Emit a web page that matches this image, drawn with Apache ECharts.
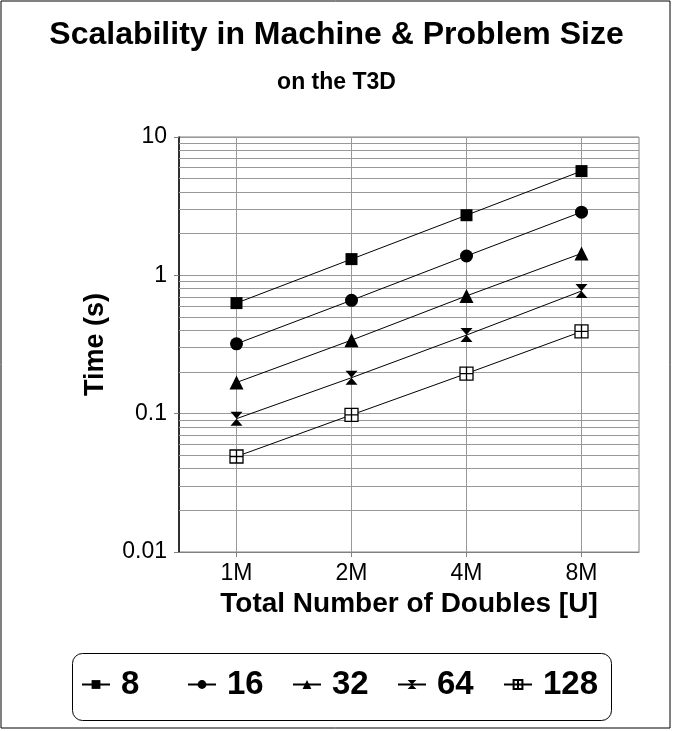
<!DOCTYPE html>
<html>
<head>
<meta charset="utf-8">
<script src="https://cdn.jsdelivr.net/npm/echarts@6/dist/echarts.min.js"></script>
<style>
html,body{margin:0;padding:0;background:#fff;}
#c{width:673px;height:731px;}
</style>
</head>
<body>
<div id="c"></div>
<script>
const categories = ['1M', '2M', '4M', '8M'];
const seriesNames = ['8', '16', '32', '64', '128'];
const s8 = [0.63, 1.31, 2.72, 5.67];
const s16 = [0.32, 0.66, 1.38, 2.86];
const s32 = [0.168, 0.34, 0.71, 1.44];
const s64 = [0.092, 0.182, 0.37, 0.77];
const s128 = [0.049, 0.098, 0.195, 0.393];
const minorValues = [0.02,0.03,0.04,0.05,0.06,0.07,0.08,0.09,0.2,0.3,0.4,0.5,0.6,0.7,0.8,0.9,2,3,4,5,6,7,8,9];

const FONT = 'Liberation Sans, Arial, sans-serif';
const chart = echarts.init(document.getElementById('c'));

const hourglass = 'path://M0,0 L10,0 L5,6 L10,12 L0,12 L5,6 Z';
const plusSquare = 'path://M0,0 L10,0 L10,10 L0,10 Z M5,0 L5,10 M0,5 L10,5';

const symbols = ['rect', 'circle', 'triangle', hourglass, plusSquare];
const sizes = [12, 13, 14, [12, 14], 13];
const values = [s8, s16, s32, s64, s128];
const legendLefts = [81, 187, 292, 397, 503];

const dataSeries = seriesNames.map((n, i) => ({
  name: n,
  type: 'line',
  data: values[i],
  symbol: symbols[i],
  symbolSize: sizes[i],
  showSymbol: true,
  lineStyle: {color: '#000', width: 1},
  itemStyle: i === 4 ? {color: '#fff', borderColor: '#000', borderWidth: 1.3} : {color: '#000'},
  z: 5,
  animation: false
}));

const gridSeries = {
  name: '_grid',
  type: 'line',
  data: [],
  z: 1,
  silent: true,
  animation: false,
  markLine: {
    silent: true,
    symbol: 'none',
    animation: false,
    label: {show: false},
    lineStyle: {color: '#999', width: 1, type: 'solid'},
    data: minorValues.map(v => ({yAxis: v})).concat(categories.map(c => ({xAxis: c})))
  }
};

const legends = seriesNames.map((n, i) => ({
  data: [n],
  left: legendLefts[i], top: 668,
  orient: 'horizontal',
  itemWidth: 28, itemHeight: 11,
  padding: 0,
  textStyle: {fontFamily: FONT, fontSize: 33, fontWeight: 'bold', color: '#000', padding: [0, 0, 0, 6]},
  selectedMode: false
}));

chart.setOption({
  backgroundColor: '#fff',
  animation: false,
  title: [
    {text: 'Scalability in Machine & Problem Size', left: 'center', top: 14,
     textStyle: {fontFamily: FONT, fontSize: 32, fontWeight: 'bold', color: '#000'}},
    {text: 'on the T3D', left: 'center', top: 66,
     textStyle: {fontFamily: FONT, fontSize: 23, fontWeight: 'bold', color: '#000'}}
  ],
  graphic: [
    {type: 'rect', shape: {x: 1, y: 1, width: 669, height: 727},
     style: {fill: 'none', stroke: '#000', lineWidth: 1}, silent: true},
    {type: 'rect', shape: {x: 72.5, y: 653.5, width: 539, height: 67, r: 10},
     style: {fill: 'none', stroke: '#000', lineWidth: 1}, silent: true}
  ],
  grid: {left: 179, right: 34, top: 137, bottom: 179, show: true, borderColor: '#808080', borderWidth: 1, backgroundColor: 'transparent'},
  legend: legends,
  xAxis: {
    type: 'category',
    data: categories,
    boundaryGap: true,
    name: 'Total Number of Doubles [U]',
    nameLocation: 'middle',
    nameGap: 36,
    nameTextStyle: {fontFamily: FONT, fontSize: 28, fontWeight: 'bold', color: '#000'},
    axisLine: {lineStyle: {color: '#808080', width: 1}},
    axisTick: {show: true, alignWithLabel: true, length: 5, lineStyle: {color: '#808080'}},
    axisLabel: {fontFamily: FONT, fontSize: 23, color: '#000', margin: 10},
    splitLine: {show: false}
  },
  yAxis: {
    type: 'log',
    logBase: 10,
    min: 0.01,
    max: 10,
    name: 'Time (s)',
    nameLocation: 'middle',
    nameRotate: 90,
    nameGap: 70,
    nameTextStyle: {fontFamily: FONT, fontSize: 27, fontWeight: 'bold', color: '#000'},
    axisLine: {show: true, lineStyle: {color: '#000', width: 1.5}},
    axisTick: {show: true, length: 5, lineStyle: {color: '#808080'}},
    axisLabel: {fontFamily: FONT, fontSize: 23, color: '#000', margin: 12,
      formatter: v => String(v)},
    splitLine: {show: true, lineStyle: {color: '#999', width: 1}},
    minorTick: {show: false},
    minorSplitLine: {show: false}
  },
  series: [gridSeries].concat(dataSeries)
});
</script>
</body>
</html>
